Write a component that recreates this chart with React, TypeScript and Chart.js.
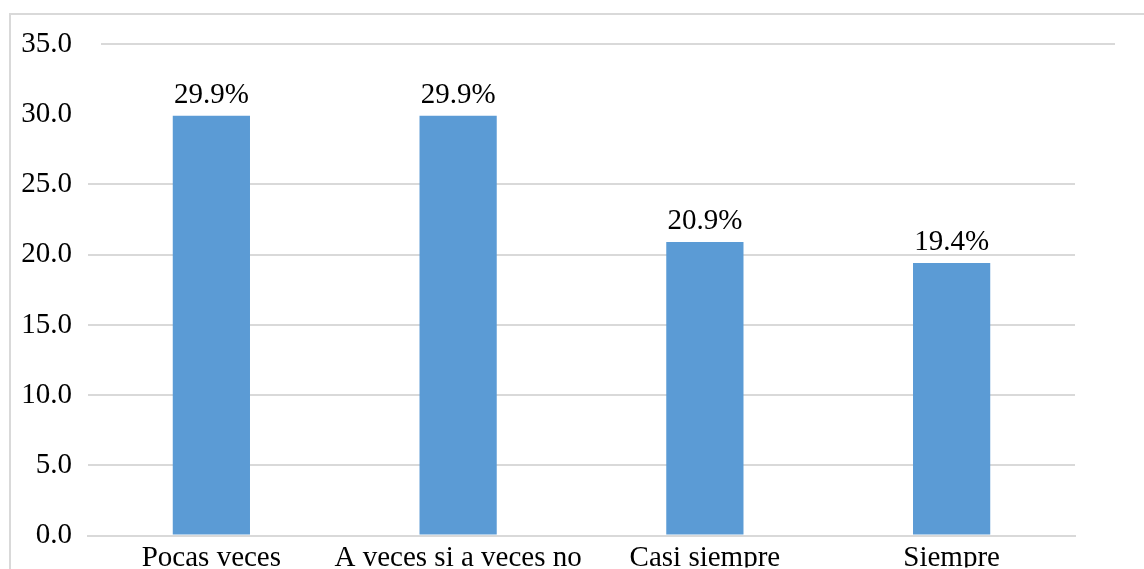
import React, { useEffect, useRef } from "react";
import { Chart, registerables } from "chart.js";

Chart.register(...registerables);

const categories = ["Pocas veces", "A veces si a veces no", "Casi siempre", "Siempre"];
const values = [29.9, 29.9, 20.9, 19.4];
const valueLabels = ["29.9%", "29.9%", "20.9%", "19.4%"];
const yMin = 0;
const yMax = 35;
const yStep = 5;

const FONT = "'Liberation Serif', 'Times New Roman', serif";
const GRID = "#d9d9d9";

const dataLabelPlugin = {
  id: "dataLabels",
  afterDatasetsDraw(chart: any) {
    const ctx = chart.ctx;
    const meta = chart.getDatasetMeta(0);
    ctx.save();
    ctx.font = `29px ${FONT}`;
    ctx.fillStyle = "#000";
    ctx.textAlign = "center";
    ctx.textBaseline = "bottom";
    meta.data.forEach((bar: any, i: number) => {
      ctx.fillText(valueLabels[i], bar.x, bar.y - 6);
    });
    ctx.restore();
  },
};

const topLinePlugin = {
  id: "topLine",
  beforeDatasetsDraw(chart: any) {
    const ctx = chart.ctx;
    const y = chart.scales.y.getPixelForValue(yMax);
    const a = chart.chartArea;
    ctx.save();
    ctx.strokeStyle = GRID;
    ctx.lineWidth = 2;
    ctx.beginPath();
    ctx.moveTo(a.left + 13, y);
    ctx.lineTo(a.right + 40, y);
    ctx.stroke();
    ctx.restore();
  },
};

export default function App() {
  const ref = useRef<HTMLCanvasElement>(null);
  useEffect(() => {
    document.documentElement.style.overflow = "hidden";
    document.body.style.overflow = "hidden";
    const chart = new Chart(ref.current as HTMLCanvasElement, {
      type: "bar",
      data: {
        labels: categories,
        datasets: [
          {
            data: values,
            backgroundColor: "#5B9BD5",
            borderWidth: 0,
            barPercentage: 1,
            categoryPercentage: 0.313,
          },
        ],
      },
      options: {
        animation: false,
        responsive: false,
        maintainAspectRatio: false,
        layout: { padding: { left: 0, right: 69, top: 44, bottom: 0 } },
        plugins: {
          legend: { display: false },
          tooltip: { enabled: false },
        },
        scales: {
          x: {
            grid: { display: false, drawTicks: false },
            border: { display: true, color: GRID, width: 2 },
            ticks: {
              color: "#000",
              font: { family: FONT, size: 29 },
              padding: 5,
              maxRotation: 0,
              autoSkip: false,
            },
            afterFit(scale: any) {
              scale.height = 32;
            },
          },
          y: {
            min: yMin,
            max: yMax,
            grid: {
              drawTicks: false,
              lineWidth: 2,
              color: (c: any) =>
                c.tick && (c.tick.value === 30 || c.tick.value === 35) ? "rgba(0,0,0,0)" : GRID,
            },
            border: { display: false },
            ticks: {
              stepSize: yStep,
              color: "#000",
              font: { family: FONT, size: 29 },
              padding: 16,
              callback: (v: any) => Number(v).toFixed(1),
            },
            afterFit(scale: any) {
              scale.width = 88;
            },
          },
        },
      },
      plugins: [dataLabelPlugin, topLinePlugin],
    });
    return () => chart.destroy();
  }, []);

  return (
    <div style={{ position: "fixed", left: 0, top: 0, width: 1144, height: 569, overflow: "hidden", background: "#fff" }}>
      <div
        style={{
          position: "absolute",
          left: 9,
          top: 13,
          width: 1300,
          height: 700,
          border: `2px solid ${GRID}`,
        }}
      />
      <canvas ref={ref} width={1144} height={569} style={{ position: "absolute", left: 0, top: 0 }} />
    </div>
  );
}
